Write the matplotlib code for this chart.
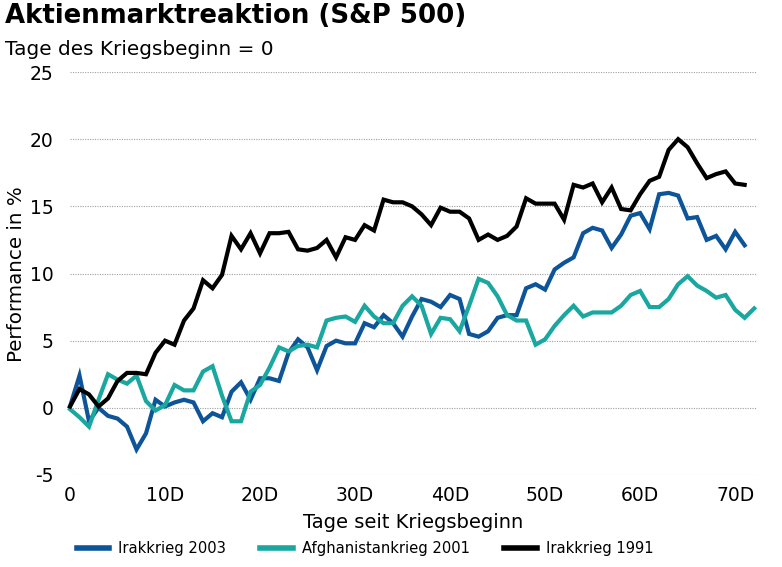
import matplotlib
matplotlib.use("Agg")
import matplotlib.pyplot as plt
import numpy as np

title = "Aktienmarktreaktion (S&P 500)"
subtitle = "Tage des Kriegsbeginn = 0"
xlabel = "Tage seit Kriegsbeginn"
ylabel = "Performance in %"

series_names = ["Irakkrieg 2003", "Afghanistankrieg 2001", "Irakkrieg 1991"]

irak_2003 = [0.1, 2.4, -1.0, 0.0, -0.6, -0.8, -1.4, -3.1, -1.9, 0.6,
             0.1, 0.4, 0.6, 0.4, -1.0, -0.4, -0.7, 1.2, 1.9, 0.6,
             2.2, 2.2, 2.0, 4.1, 5.1, 4.5, 2.8, 4.6, 5.0, 4.8,
             4.8, 6.3, 6.0, 6.9, 6.3, 5.3, 6.8, 8.1, 7.9, 7.5,
             8.4, 8.1, 5.5, 5.3, 5.7, 6.7, 6.9, 6.9, 8.9, 9.2,
             8.8, 10.3, 10.8, 11.2, 13.0, 13.4, 13.2, 11.9, 12.9, 14.3,
             14.5, 13.3, 15.9, 16.0, 15.8, 14.1, 14.2, 12.5, 12.8, 11.8,
             13.1, 12.1]

afghan_2001 = [-0.1, -0.7, -1.4, 0.6, 2.5, 2.1, 1.8, 2.4, 0.5, -0.2,
               0.2, 1.7, 1.3, 1.3, 2.7, 3.1, 0.9, -1.0, -1.0, 1.2,
               1.7, 3.0, 4.5, 4.2, 4.6, 4.7, 4.5, 6.5, 6.7, 6.8,
               6.4, 7.6, 6.8, 6.3, 6.3, 7.6, 8.3, 7.6, 5.5, 6.7,
               6.6, 5.7, 7.6, 9.6, 9.3, 8.3, 6.9, 6.5, 6.5, 4.7,
               5.1, 6.1, 6.9, 7.6, 6.8, 7.1, 7.1, 7.1, 7.6, 8.4,
               8.7, 7.5, 7.5, 8.1, 9.2, 9.8, 9.1, 8.7, 8.2, 8.4,
               7.3, 6.7, 7.4]

irak_1991 = [0.1, 1.4, 1.0, 0.1, 0.7, 2.0, 2.6, 2.6, 2.5, 4.1,
             5.0, 4.7, 6.5, 7.4, 9.5, 8.9, 9.9, 12.8, 11.8, 13.0,
             11.5, 13.0, 13.0, 13.1, 11.8, 11.7, 11.9, 12.5, 11.2, 12.7,
             12.5, 13.6, 13.2, 15.5, 15.3, 15.3, 15.0, 14.4, 13.6, 14.9,
             14.6, 14.6, 14.1, 12.5, 12.9, 12.5, 12.8, 13.5, 15.6, 15.2,
             15.2, 15.2, 14.0, 16.6, 16.4, 16.7, 15.3, 16.4, 14.8, 14.7,
             15.9, 16.9, 17.2, 19.2, 20.0, 19.4, 18.2, 17.1, 17.4, 17.6,
             16.7, 16.6]

x_ticks = [0, 10, 20, 30, 40, 50, 60, 70]
x_ticklabels = ["0", "10D", "20D", "30D", "40D", "50D", "60D", "70D"]
y_ticks = [-5, 0, 5, 10, 15, 20, 25]

colors = ["#0D5499", "#19A79F", "#000000"]

W, H = 782, 567
fig = plt.figure(figsize=(W / 100, H / 100), dpi=100)
ax = fig.add_axes([70 / W, 1 - 475 / H, (757 - 70) / W, (475 - 72) / H])

for vals, name, c in zip([irak_2003, afghan_2001, irak_1991], series_names, colors):
    ax.plot(np.arange(len(vals)), vals, color=c, lw=3.0, label=name,
            solid_joinstyle="miter", clip_on=False)

ax.set_xlim(0, 72.3)
ax.set_ylim(-5, 25)
ax.set_yticks(y_ticks)
ax.set_yticklabels([str(v) for v in y_ticks])
ax.set_xticks(x_ticks)
ax.set_xticklabels(x_ticklabels)
ax.tick_params(axis="both", length=0, labelsize=13.5, colors="black")
ax.tick_params(axis="y", pad=12)
ax.tick_params(axis="x", pad=8)
for s in ax.spines.values():
    s.set_visible(False)
ax.yaxis.grid(True, color="#a0a0a0", linestyle=(0, (1, 1.2)), linewidth=0.8)
ax.set_axisbelow(True)

fig.text(5 / W, 1 - 3 / H, title, fontsize=18.7, fontweight="bold", va="top", ha="left")
fig.text(5 / W, 1 - 40 / H, subtitle, fontsize=14.4, va="top", ha="left")
fig.text(413 / W, 1 - 522 / H, xlabel, fontsize=14, va="center", ha="center")
fig.text(17 / W, 1 - 274 / H, ylabel, fontsize=14.3, va="center", ha="center", rotation=90)

handles, labels = ax.get_legend_handles_labels()
leg = fig.legend(handles, labels, loc="center", bbox_to_anchor=(365 / W, 1 - 549 / H),
                 ncol=3, frameon=False, handlelength=2.0,
                 handletextpad=0.55, columnspacing=2.07,
                 prop={"family": "DejaVu Sans", "stretch": "condensed", "size": 11.8})
for lh in leg.get_lines():
    lh.set_linewidth(4)

fig.savefig("out.png", dpi=100)
